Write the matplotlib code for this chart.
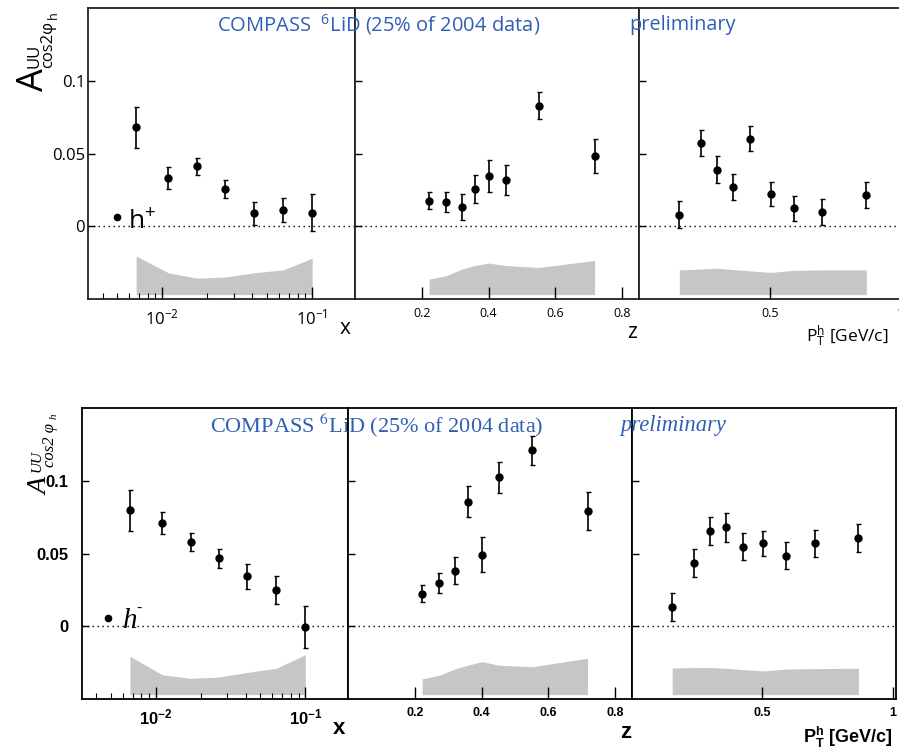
import numpy as np
import matplotlib
matplotlib.use("Agg")
import matplotlib.pyplot as plt
import matplotlib.ticker as ticker

plt.rcParams['mathtext.fontset'] = 'custom'
plt.rcParams['mathtext.rm'] = 'Open Sans'
plt.rcParams['mathtext.it'] = 'Open Sans:italic'
plt.rcParams['mathtext.bf'] = 'Liberation Sans:bold'

# bin centres
x_bins = [0.0067, 0.011, 0.0171, 0.0263, 0.041, 0.064, 0.1]
z_bins = [0.222, 0.273, 0.319, 0.358, 0.400, 0.452, 0.551, 0.717]
pt_bins = [0.154, 0.236, 0.299, 0.360, 0.425, 0.503, 0.592, 0.700, 0.868]

# h+ (top row)
hp_x = [0.068, 0.0333, 0.0411, 0.0253, 0.0089, 0.0112, 0.0094]
hp_x_err = [0.014, 0.0074, 0.0058, 0.0062, 0.0078, 0.0085, 0.0128]
hp_x_sys = [0.0265, 0.015, 0.0113, 0.0121, 0.015, 0.017, 0.025]

hp_z = [0.0176, 0.0166, 0.0135, 0.0256, 0.0347, 0.032, 0.0829, 0.0486]
hp_z_err = [0.0059, 0.0067, 0.009, 0.0099, 0.011, 0.0103, 0.0094, 0.0117]
hp_z_sys = [0.0107, 0.013, 0.0175, 0.02, 0.0217, 0.02, 0.0187, 0.0235]

hp_pt = [0.008, 0.0573, 0.039, 0.0269, 0.0603, 0.0221, 0.0123, 0.0098, 0.0212]
hp_pt_err = [0.0091, 0.009, 0.0093, 0.0091, 0.0086, 0.0082, 0.0088, 0.009, 0.009]
hp_pt_sys = [0.017, 0.0176, 0.0181, 0.0172, 0.0163, 0.0153, 0.0167, 0.017, 0.017]

# h- (bottom row)
hm_x = [0.0798, 0.0709, 0.0576, 0.0466, 0.0342, 0.025, -0.0005]
hm_x_err = [0.014, 0.0075, 0.0062, 0.0067, 0.0085, 0.0096, 0.0145]
hm_x_sys = [0.0264, 0.0137, 0.0112, 0.0121, 0.0153, 0.0181, 0.0275]

hm_z = [0.0225, 0.0298, 0.0383, 0.0856, 0.0493, 0.1023, 0.1209, 0.0794]
hm_z_err = [0.006, 0.0071, 0.0093, 0.0106, 0.0122, 0.0108, 0.01, 0.013]
hm_z_sys = [0.0108, 0.0133, 0.0176, 0.0202, 0.0227, 0.0202, 0.0192, 0.025]

hm_pt = [0.0135, 0.0433, 0.0656, 0.0679, 0.0548, 0.0571, 0.0486, 0.0571, 0.0606]
hm_pt_err = [0.0096, 0.0095, 0.0096, 0.0097, 0.0092, 0.0086, 0.0094, 0.0092, 0.0095]
hm_pt_sys = [0.0183, 0.0186, 0.0186, 0.0181, 0.0172, 0.0163, 0.0176, 0.0179, 0.0181]

y_ticks = [0, 0.05, 0.1]
y_ticklabels = ['0', '0.05', '0.1']
z_ticks = [0.2, 0.4, 0.6, 0.8]
pt_ticks = [0.5, 1]

BLUE = '#2f5fb3'
GREY = '#c5c6c8'
SYS_BASE = -0.047
W, H = 899.0, 756.0


def px_rect(left, top, right, bottom):
    return [left / W, 1 - bottom / H, (right - left) / W, (bottom - top) / H]


def draw_panel(ax, xs, ys, errs, sys, spine_col):
    ax.fill_between(xs, SYS_BASE, np.array(sys) + SYS_BASE, color=GREY, lw=0, zorder=1)
    ax.axhline(0, color='k', ls=(0, (1, 2.6)), lw=1, zorder=2)
    ax.errorbar(xs, ys, yerr=errs, fmt='o', color='k', ms=5, elinewidth=1.2,
                capsize=1.8, capthick=1, zorder=3)
    ax.set_ylim(-0.05, 0.15)
    ax.set_yticks(y_ticks)
    ax.tick_params(axis='both', which='both', direction='in', top=False, right=False)
    ax.tick_params(axis='y', length=5, width=1)
    ax.tick_params(axis='x', which='major', length=9, width=1)
    ax.tick_params(axis='x', which='minor', length=4, width=0.8)
    for s in ax.spines.values():
        s.set_linewidth(1.3)
        s.set_color(spine_col)


def draw_row(rects, data, tfont, big, spine_col, ypad):
    fam, weight = tfont
    axs = [plt.axes(r) for r in rects]
    (xv, xe, xs_), (zv, ze, zs), (pv, pe, ps) = data
    draw_panel(axs[0], x_bins, xv, xe, xs_, spine_col)
    draw_panel(axs[1], z_bins, zv, ze, zs, spine_col)
    draw_panel(axs[2], pt_bins, pv, pe, ps, spine_col)

    ax = axs[0]
    ax.set_xscale('log')
    ax.set_xlim(0.0032, 0.193)
    ax.xaxis.set_minor_locator(ticker.LogLocator(base=10, subs=np.arange(2, 10)))
    ax.xaxis.set_minor_formatter(ticker.NullFormatter())
    if weight == 'bold':
        lbl = [r'$\mathbf{10^{-2}}$', r'$\mathbf{10^{-1}}$']
    else:
        lbl = [r'$10^{-2}$', r'$10^{-1}$']
    ax.set_xticks([0.01, 0.1], labels=lbl, fontsize=big)
    ax.tick_params(axis='x', which='major', pad=7)
    ax.set_yticklabels(y_ticklabels, fontfamily=fam, fontweight=weight, fontsize=big)
    ax.tick_params(axis='y', pad=ypad)

    axs[1].set_xlim(0, 0.85)
    axs[1].set_xticks(z_ticks, labels=['0.2', '0.4', '0.6', '0.8'],
                      fontfamily=fam, fontweight=weight, fontsize=9)
    axs[2].set_xlim(0, 1.012)
    axs[2].set_xticks(pt_ticks, labels=['0.5', '1'],
                      fontfamily=fam, fontweight=weight, fontsize=9)
    for a in axs[1:]:
        a.tick_params(axis='y', labelleft=False)
        a.tick_params(axis='x', which='major', pad=6)
    return axs


fig = plt.figure(figsize=(8.99, 7.56), dpi=100)

# ---- top row: h+
top_axs = draw_row(
    [px_rect(88, 8, 355, 299), px_rect(355, 8, 639, 299), px_rect(639, 8, 904, 299)],
    [(hp_x, hp_x_err, hp_x_sys), (hp_z, hp_z_err, hp_z_sys), (hp_pt, hp_pt_err, hp_pt_sys)],
    ('Open Sans', 'normal'), 12, '#222222', 2)

ax = top_axs[0]
ax.plot([0.109], [0.282], 'o', color='k', ms=4.5, transform=ax.transAxes)
ax.text(0.15, 0.24, 'h$^{+}$', transform=ax.transAxes, fontfamily='Open Sans', fontsize=19)

fig.text(217 / W, 1 - 25 / H, 'COMPASS  $^{6}$LiD (25% of 2004 data)',
         fontfamily='Open Sans', fontsize=14.5, color=BLUE, va='center')
fig.text(629 / W, 1 - 25 / H, 'preliminary', fontfamily='Open Sans', fontsize=14.3,
         color=BLUE, va='center')

# y label pieces (rotated)
fig.text(34 / W, 1 - 80 / H, 'A', rotation=90, ha='center', va='center',
         fontfamily='Open Sans', fontsize=26)
fig.text(34 / W, 1 - 56 / H, 'UU', rotation=90, ha='center', va='center',
         fontfamily='Open Sans', fontsize=12)
fig.text(48.5 / W, 1 - 44 / H, 'cos2φ', rotation=90, ha='center', va='center',
         fontfamily='Open Sans', fontsize=12)
fig.text(53 / W, 1 - 15 / H, 'h', rotation=90, ha='center', va='center',
         fontfamily='Open Sans', fontsize=9)

fig.text(345 / W, 1 - 329 / H, 'x', fontfamily='Open Sans', fontsize=15, ha='center', va='center')
fig.text(632 / W, 1 - 333 / H, 'z', fontfamily='Open Sans', fontsize=15, ha='center', va='center')
fig.text(888 / W, 1 - 337 / H, r'$\mathrm{P}_{\mathrm{T}}^{\mathrm{h}}$ [GeV/c]',
         fontfamily='Open Sans', fontsize=12.5, ha='right', va='center')

# ---- bottom row: h-
bot_axs = draw_row(
    [px_rect(82, 408, 348, 699), px_rect(348, 408, 632, 699), px_rect(632, 408, 896, 699)],
    [(hm_x, hm_x_err, hm_x_sys), (hm_z, hm_z_err, hm_z_sys), (hm_pt, hm_pt_err, hm_pt_sys)],
    ('Liberation Sans', 'bold'), 12, 'k', 10)

ax = bot_axs[0]
ax.plot([0.098], [0.278], 'o', color='k', ms=4.5, transform=ax.transAxes)
ax.text(0.155, 0.244, 'h', transform=ax.transAxes, fontsize=21,
        fontfamily='Liberation Serif', style='italic')
ax.text(0.205, 0.30, '-', transform=ax.transAxes, fontsize=11,
        fontfamily='Liberation Serif')

fig.text(210 / W, 1 - 425 / H, 'COMPASS $^{6}$LiD (25% of 2004 data)',
         fontfamily='Liberation Serif', fontsize=16, color=BLUE, va='center',
         math_fontfamily='stix')
fig.text(620 / W, 1 - 425 / H, 'preliminary', fontfamily='Liberation Serif',
         style='italic', fontsize=16.3, color=BLUE, va='center')

fig.text(41 / W, 1 - 486 / H, 'A', rotation=90, ha='center', va='center',
         fontfamily='Liberation Serif', style='italic', fontsize=20)
fig.text(37 / W, 1 - 461 / H, 'UU', rotation=90, ha='center', va='center',
         fontfamily='Liberation Serif', style='italic', fontsize=11)
fig.text(49.5 / W, 1 - 445 / H, 'cos2 φ', rotation=90, ha='center', va='center',
         fontfamily='Liberation Serif', style='italic', fontsize=12)
fig.text(54 / W, 1 - 416 / H, 'h', rotation=90, ha='center', va='center',
         fontfamily='Liberation Serif', style='italic', fontsize=8)

fig.text(339 / W, 1 - 729 / H, 'x', fontfamily='Liberation Sans', fontweight='bold',
         fontsize=16, ha='center', va='center')
fig.text(626 / W, 1 - 733 / H, 'z', fontfamily='Liberation Sans', fontweight='bold',
         fontsize=16, ha='center', va='center')
fig.text(892 / W, 1 - 737 / H, r'$\mathbf{P}_{\mathbf{T}}^{\mathbf{h}}$ [GeV/c]',
         fontfamily='Liberation Sans', fontweight='bold', fontsize=13, ha='right', va='center')

fig.savefig('out.png', dpi=100)
